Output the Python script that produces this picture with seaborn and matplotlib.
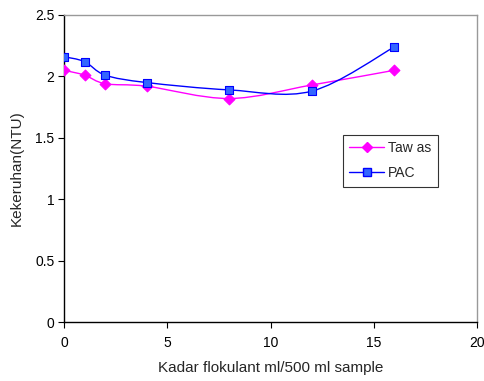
import numpy as np
import pandas as pd
import matplotlib
matplotlib.use("Agg")
import matplotlib.pyplot as plt
import seaborn as sns
from matplotlib.path import Path
from matplotlib.patches import PathPatch
from matplotlib.lines import Line2D

dose = [0, 1, 2, 4, 8, 12, 16]
tawas = [2.05, 2.01, 1.94, 1.92, 1.82, 1.93, 2.05]
pac = [2.16, 2.12, 2.01, 1.95, 1.89, 1.88, 2.24]
series_names = ["Taw as", "PAC"]
xticks = [0, 5, 10, 15, 20]
yticks = [0, 0.5, 1, 1.5, 2, 2.5]

sns.set_theme(style="white")
plt.rcParams["font.family"] = ["Liberation Sans", "DejaVu Sans"]

df = pd.DataFrame({
    "x": dose * 2,
    "y": tawas + pac,
    "s": [series_names[0]] * len(dose) + [series_names[1]] * len(dose),
})

fig = plt.figure(figsize=(4.84, 3.81), dpi=100)
ax = fig.add_axes([64 / 484, 59 / 381, (477 - 64) / 484, (322 - 15) / 381])

colors = {"Taw as": "#FF00FF", "PAC": "#0000FF"}
faces = {"Taw as": "#FF00FF", "PAC": "#3366FF"}
markers = {"Taw as": "D", "PAC": "s"}
msizes = {"Taw as": 5.5, "PAC": 6}


def smooth_path(xs, ys):
    pts = np.column_stack([xs, ys]).astype(float)
    n = len(pts)
    verts = [pts[0]]
    codes = [Path.MOVETO]
    for i in range(n - 1):
        p0 = pts[i - 1] if i > 0 else pts[i]
        p1 = pts[i]
        p2 = pts[i + 1]
        p3 = pts[i + 2] if i + 2 < n else pts[i + 1]
        c1 = p1 + (p2 - p0) / 6.0
        c2 = p2 - (p3 - p1) / 6.0
        verts += [c1, c2, p2]
        codes += [Path.CURVE4] * 3
    return Path(verts, codes)


for name, ys in zip(series_names, [tawas, pac]):
    patch = PathPatch(smooth_path(dose, ys), facecolor="none",
                      edgecolor=colors[name], lw=1.0, zorder=2)
    ax.add_patch(patch)

for name in series_names:
    sub = df[df["s"] == name]
    sns.scatterplot(data=sub, x="x", y="y", ax=ax, marker=markers[name],
                    s=msizes[name] ** 2, color=faces[name],
                    edgecolor=colors[name], linewidth=0.8, zorder=3,
                    legend=False)

ax.set_xlim(0, 20)
ax.set_ylim(0, 2.5)
ax.set_xticks(xticks)
ax.set_yticks(yticks)
ax.set_xticklabels([str(t) for t in xticks])
ax.set_yticklabels(["0", "0.5", "1", "1.5", "2", "2.5"])
ax.tick_params(axis="both", direction="out", length=4, width=0.8,
               labelsize=10, colors="black", pad=3, bottom=True, left=True)
ax.tick_params(axis="x", pad=6)
ax.set_xlabel("Kadar flokulant ml/500 ml sample", fontsize=11, labelpad=8)
ax.set_ylabel("Kekeruhan(NTU)", fontsize=11, labelpad=8)

for side in ["left", "bottom"]:
    ax.spines[side].set_color("black")
    ax.spines[side].set_linewidth(1.0)
for side in ["top", "right"]:
    ax.spines[side].set_color("#999999")
    ax.spines[side].set_linewidth(1.0)
ax.set_facecolor("white")
ax.grid(False)

handles = [
    Line2D([], [], color=colors[n], marker=markers[n], markersize=msizes[n],
           markerfacecolor=faces[n], markeredgecolor=colors[n], lw=1.0)
    for n in series_names
]
leg = ax.legend(handles, series_names, loc="upper left",
                bbox_to_anchor=((343 - 64) / 413, (322 - 135) / 307),
                frameon=True, fancybox=False, edgecolor="black",
                fontsize=10, handlelength=2.5, handletextpad=0.3,
                borderpad=0.45, labelspacing=0.8, borderaxespad=0)
leg.get_frame().set_linewidth(0.8)

fig.savefig("out.png", dpi=100, facecolor="white")
